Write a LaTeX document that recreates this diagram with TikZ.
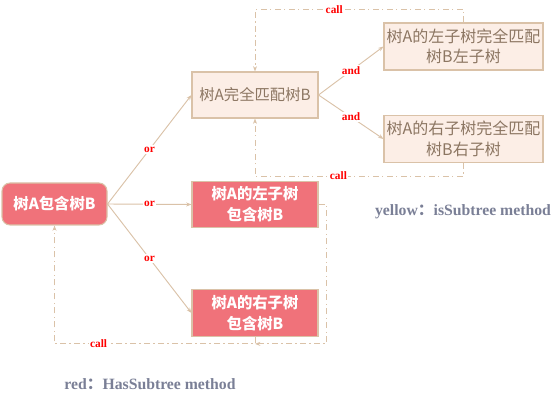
\documentclass[tikz,border=0pt]{standalone}
\usepackage{fontspec}
\setmainfont{Liberation Serif}
\newfontfamily\cjk{Noto Sans CJK SC}
\usetikzlibrary{arrows.meta}

\definecolor{redfill}{RGB}{240,114,122}
\definecolor{tanline}{RGB}{218,194,168}
\definecolor{peachfill}{RGB}{252,238,230}
\definecolor{peachtext}{RGB}{140,118,98}
\definecolor{legendtext}{RGB}{122,127,150}

\begin{document}
\begin{tikzpicture}[x=0.75pt,y=-0.75pt,
        red node/.style={rectangle,draw=tanline,fill=redfill,text=white,line width=0.8pt,
          font=\cjk\bfseries\fontsize{11.5}{15.5}\selectfont,align=center,inner sep=0pt},
        peach node/.style={rectangle,draw=tanline,fill=peachfill,text=peachtext,line width=0.8pt,
          font=\cjk\fontsize{11.5}{15.5}\selectfont,align=center,inner sep=0pt},
        link/.style={draw=tanline,line width=0.7pt,-{Stealth[length=4pt,width=3pt]}},
        call/.style={draw=tanline,line width=0.7pt,dash pattern={on 4.5pt off 2.5pt on 1pt off 2.5pt},
          -{Stealth[length=4pt,width=3pt]}},
        lbl/.style={fill=white,text=red,inner sep=1pt,font=\bfseries\fontsize{8.5}{9}\selectfont},
        legend/.style={text=legendtext,font=\bfseries\fontsize{11.8}{14}\selectfont}]

        \useasboundingbox (0,0) rectangle (560,402);

        \node[red node,rounded corners=6pt,minimum width=78.75pt,minimum height=31.5pt] (root) at (54.5,204) {树A包含树B};
        \node[peach node,minimum width=94.5pt,minimum height=34.5pt] (match) at (255,95) {树A完全匹配树B};
        \node[peach node,minimum width=119.25pt,minimum height=35.25pt,font=\cjk\fontsize{12}{15.5}\selectfont] (lmatch) at (463.5,46.5) {树A的左子树完全匹配\\树B左子树};
        \node[peach node,minimum width=119.25pt,minimum height=35.25pt,font=\cjk\fontsize{12}{15.5}\selectfont] (rmatch) at (463.5,139) {树A的右子树完全匹配\\树B右子树};
        \node[red node,minimum width=94.5pt,minimum height=35pt] (lsub) at (255,204.5) {树A的左子树\\包含树B};
        \node[red node,minimum width=94.5pt,minimum height=35pt] (rsub) at (255,313) {树A的右子树\\包含树B};

        \node[legend] (yellowkey) at (463,212) {yellow{\cjk ：}isSubtree method};
        \node[legend] (redkey) at (150,384) {red{\cjk ：}HasSubtree method};

        \path
          (root.east) edge[link] node[lbl] {or} (match.west)
          (root.east) edge[link] node[lbl] {or} (lsub.west)
          (root.east) edge[link] node[lbl] {or} (rsub.west)
          (match.east) edge[link] node[lbl] {and} (lmatch.west)
          (match.east) edge[link] node[lbl] {and} (rmatch.west);

        % recursive calls
        \draw[call] (lmatch.north) -- ++(0,-13) -| node[lbl,pos=0.31] {call} (match.north);
        \draw[call] (rmatch.south) -- ++(0,13) -| node[lbl,pos=0.3] {call} (match.south);
        \path (rsub.south) ++(0,7) coordinate (join);
        \draw[call] (rsub.south) -- (join) -| node[lbl,pos=0.39] {call} (root.south);
        \draw[call] (lsub.east) -- ++(8,0) |- (join);
      \end{tikzpicture}
\end{document}
